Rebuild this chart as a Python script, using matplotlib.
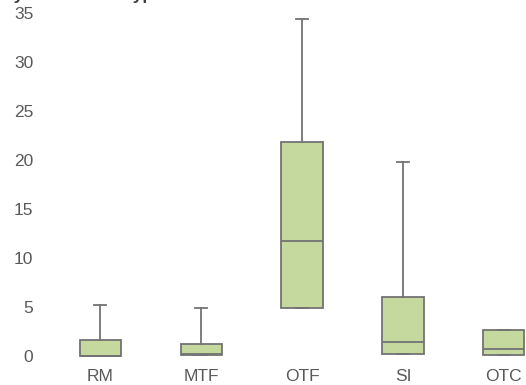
import matplotlib.pyplot as plt

plt.rcParams['font.family'] = ['Liberation Sans', 'DejaVu Sans']

# category labels and box statistics
categories = ["RM", "MTF", "OTF", "SI", "OTC"]
mins = [0.0, 0.1, 4.9, 0.2, 0.1]
q1s = [0.0, 0.1, 4.9, 0.2, 0.1]
medians = [0.05, 0.2, 11.7, 1.4, 0.7]
q3s = [1.6, 1.2, 21.8, 6.0, 2.7]
maxs = [5.2, 4.9, 34.4, 19.8, 2.7]

box_fill = "#c5d89d"
edge = "#737373"
text_col = "#595959"

fig = plt.figure(figsize=(5.26, 3.85), dpi=100)
ax = fig.add_axes([50 / 526, 1 - 361 / 385, 476 / 526, 353 / 385])

stats = []
for i, name in enumerate(categories):
    stats.append({
        "label": name,
        "whislo": mins[i],
        "q1": q1s[i],
        "med": medians[i],
        "q3": q3s[i],
        "whishi": maxs[i],
        "fliers": [],
    })

ax.bxp(stats, positions=range(len(categories)), widths=0.41,
       patch_artist=True, showfliers=False,
       capwidths=0.12,
       boxprops=dict(facecolor=box_fill, edgecolor=edge, linewidth=1.3),
       medianprops=dict(color=edge, linewidth=1.3),
       whiskerprops=dict(color=edge, linewidth=1.3),
       capprops=dict(color=edge, linewidth=1.3))

ax.set_xlim(-0.5, 4.22)
ax.set_ylim(-0.5, 35.5)
ax.set_yticks(range(0, 36, 5))
for s in ax.spines.values():
    s.set_visible(False)
ax.tick_params(length=0, colors=text_col, labelsize=12.5)
ax.tick_params(axis='y', pad=12)
ax.tick_params(axis='x', pad=6)

# title is cut off at the top edge, as in the original
fig.text(0.006, 1.012, "by Instrument Type", fontsize=12.5, fontweight='bold',
         color="#404040", ha='left', va='center')

fig.savefig("out.png", dpi=100)
